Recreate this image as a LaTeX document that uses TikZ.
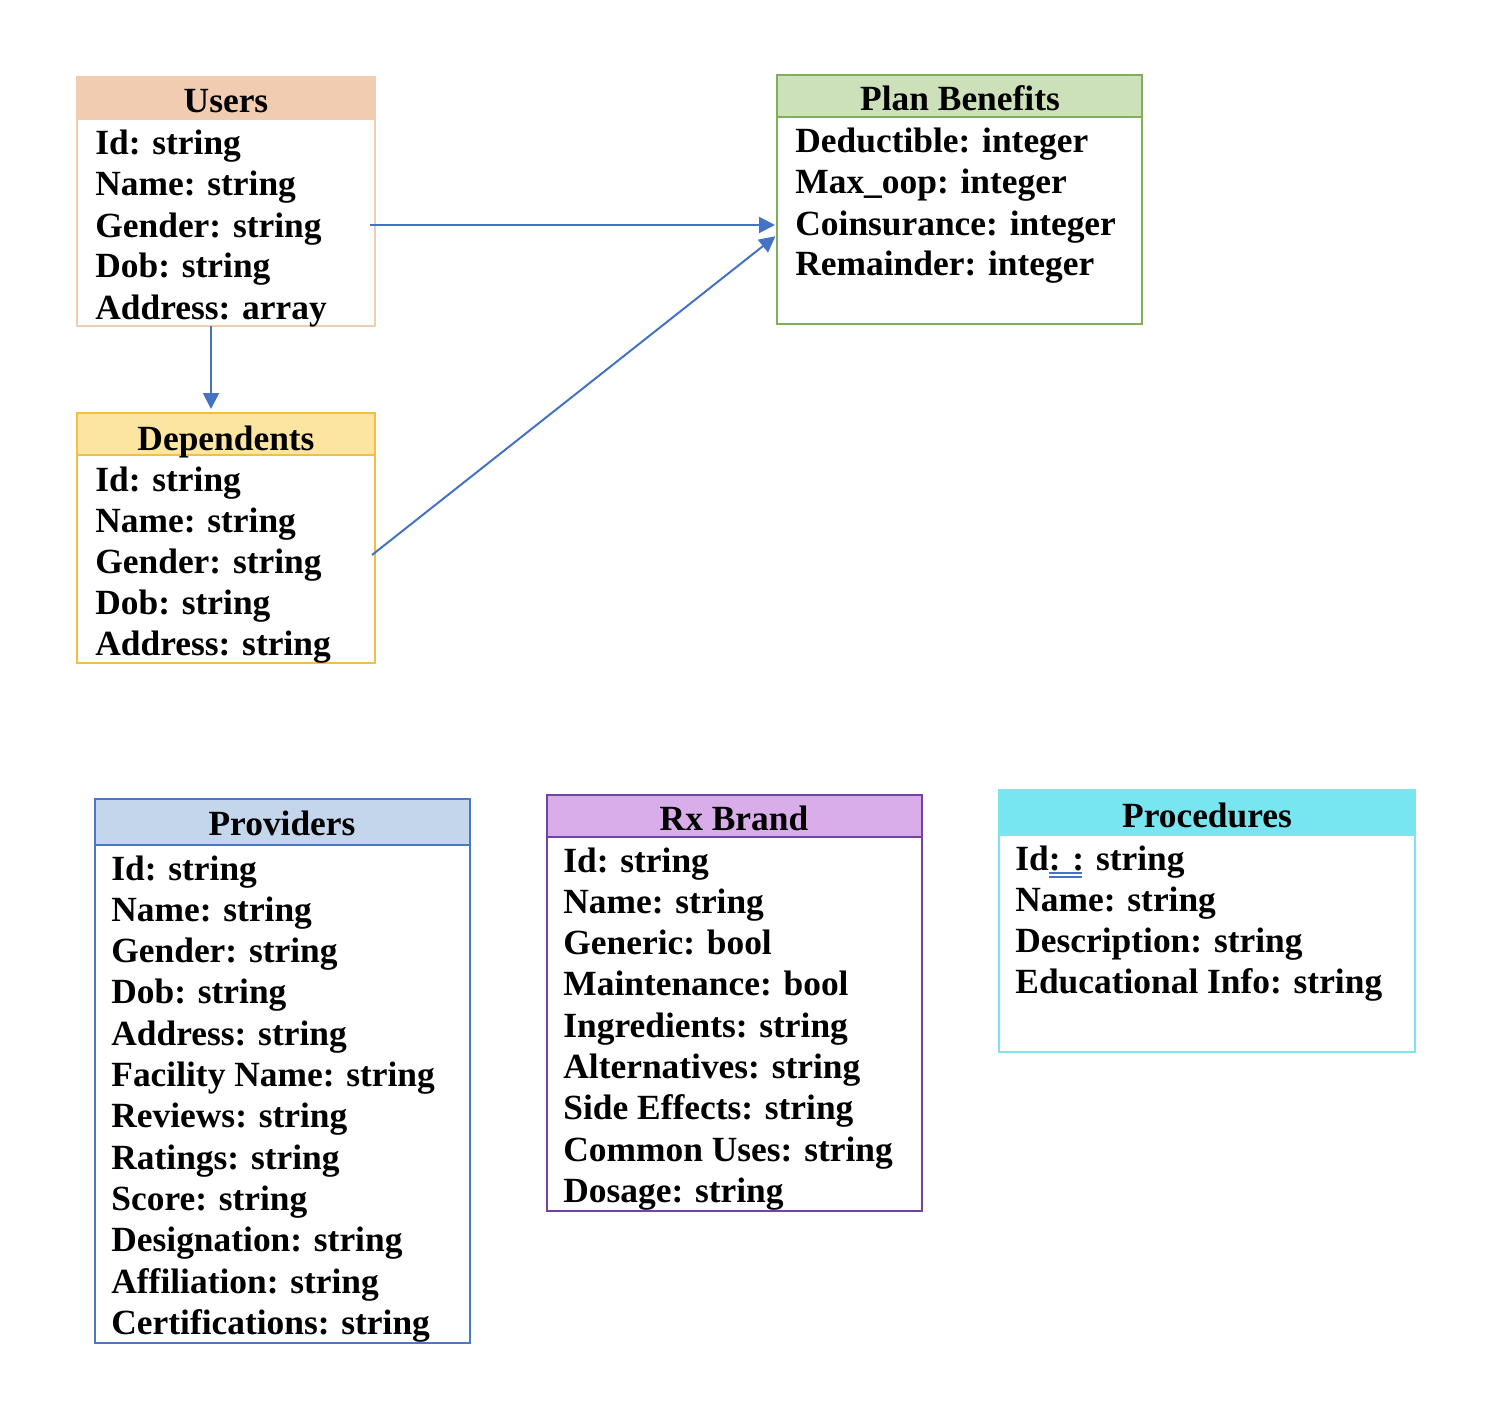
\documentclass[tikz,border=0pt]{standalone}
\usepackage{fontspec}
\setmainfont{Liberation Serif}
\usetikzlibrary{arrows.meta}

\definecolor{usersfill}{HTML}{F1CCB0}
\definecolor{usersline}{HTML}{F1CCB0}
\definecolor{planfill}{HTML}{CCE0B9}
\definecolor{planline}{HTML}{80AE5C}
\definecolor{depsfill}{HTML}{FBE5A0}
\definecolor{depsline}{HTML}{F2BE45}
\definecolor{provfill}{HTML}{C3D6EC}
\definecolor{provline}{HTML}{4A78C6}
\definecolor{rxfill}{HTML}{D9ACEA}
\definecolor{rxline}{HTML}{7343A2}
\definecolor{procfill}{HTML}{77E6F0}
\definecolor{procline}{HTML}{80E4EE}
\definecolor{linkblue}{HTML}{4472C4}

\begin{document}
\begin{tikzpicture}[x=0.5pt, y=-0.5pt,
  frame/.style={draw, line width=1pt, anchor=north west, inner sep=0pt, outer sep=0pt},
  title/.style={anchor=base, inner sep=0pt, font=\fontsize{17.7}{21}\selectfont\bfseries},
  row/.style={anchor=base west, inner sep=0pt, font=\fontsize{17.7}{21}\selectfont\bfseries},
  link/.style={-{Triangle[length=8pt, width=8pt]}, line width=1pt, color=linkblue}]
\useasboundingbox (0,0) rectangle (1506,1418);

% Users
\node [frame, fill=usersfill, draw=usersline, minimum width=149pt, minimum height=21pt] (users-head) at (77,77) {};
\node [frame, draw=usersline, minimum width=149pt, minimum height=124.5pt] (users) at (77,77) {};
\node [title] (users-title) at (226,113) {Users};
\foreach \t [count=\i] in {Id: string, Name: string, Gender: string, Dob: string, Address: array}
  \node [row] (users-\i) at (95, {155+41*(\i-1)}) {\t};

% Plan Benefits
\node [frame, fill=planfill, draw=planline, minimum width=182.5pt, minimum height=21pt] (plan-head) at (777,75) {};
\node [frame, draw=planline, minimum width=182.5pt, minimum height=124.5pt] (plan) at (777,75) {};
\node [title] (plan-title) at (960,111) {Plan Benefits};
\foreach \t [count=\i] in {Deductible: integer, Max\_oop: integer, Coinsurance: integer, Remainder: integer}
  \node [row] (plan-\i) at (795, {153+41*(\i-1)}) {\t};

% Dependents
\node [frame, fill=depsfill, draw=depsline, minimum width=149pt, minimum height=21pt] (deps-head) at (77,413) {};
\node [frame, draw=depsline, minimum width=149pt, minimum height=125pt] (deps) at (77,413) {};
\node [title] (deps-title) at (226,450) {Dependents};
\foreach \t [count=\i] in {Id: string, Name: string, Gender: string, Dob: string, Address: string}
  \node [row] (deps-\i) at (95, {491+41*(\i-1)}) {\t};

% Providers
\node [frame, fill=provfill, draw=provline, minimum width=187.5pt, minimum height=23pt] (prov-head) at (95,799) {};
\node [frame, draw=provline, minimum width=187.5pt, minimum height=272pt] (prov) at (95,799) {};
\node [title] (prov-title) at (282,835) {Providers};
\foreach \t [count=\i] in {Id: string, Name: string, Gender: string, Dob: string, Address: string,
    Facility Name: string, Reviews: string, Ratings: string, Score: string,
    Designation: string, Affiliation: string, Certifications: string}
  \node [row] (prov-\i) at (111, {880+41.3*(\i-1)}) {\t};

% Rx Brand
\node [frame, fill=rxfill, draw=rxline, minimum width=187.5pt, minimum height=21pt] (rx-head) at (547,795) {};
\node [frame, draw=rxline, minimum width=187.5pt, minimum height=208pt] (rx) at (547,795) {};
\node [title] (rx-title) at (734,830) {Rx Brand};
\foreach \t [count=\i] in {Id: string, Name: string, Generic: bool, Maintenance: bool, Ingredients: string,
    Alternatives: string, Side Effects: string, Common Uses: string, Dosage: string}
  \node [row] (rx-\i) at (563, {872+41.3*(\i-1)}) {\t};

% Procedures
\node [frame, fill=procfill, draw=procline, minimum width=208pt, minimum height=22.5pt] (proc-head) at (999,790) {};
\node [frame, draw=procline, minimum width=208pt, minimum height=131pt] (proc) at (999,790) {};
\node [title] (proc-title) at (1207,827) {Procedures};
\foreach \t [count=\i] in {Id: : string, Name: string, Description: string, Educational Info: string}
  \node [row] (proc-\i) at (1015, {870+41.3*(\i-1)}) {\t};
\draw [linkblue, line width=0.7pt] (1049,873) -- (1082,873);
\draw [linkblue, line width=0.7pt] (1049,877) -- (1082,877);

% links
\draw [link, shorten >=1pt] ([xshift=-2.5pt]users.east |- 0,225) -- (plan.west |- 0,225);
\draw [link, shorten >=1pt] ([xshift=-1.5pt]deps.east |- 0,555) -- (plan.west |- 0,235);
\draw [link, shorten >=2pt] (users.south -| 211,0) -- (deps.north -| 211,0);
\end{tikzpicture}
\end{document}
